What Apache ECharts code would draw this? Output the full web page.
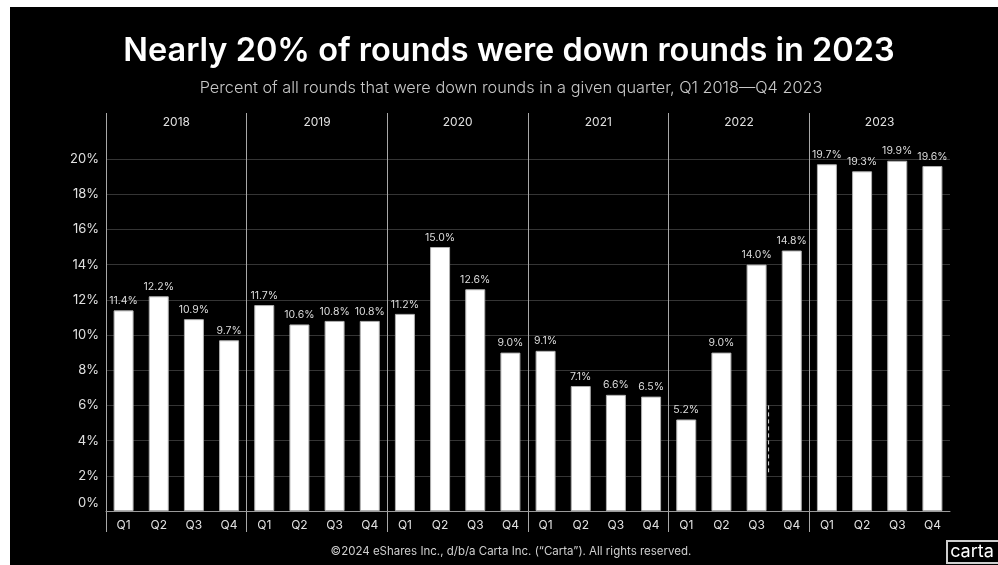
<!DOCTYPE html>
<html>
<head>
<meta charset="utf-8">
<script src="https://cdn.jsdelivr.net/npm/echarts@6/dist/echarts.min.js"></script>
<style>
html,body{margin:0;padding:0;background:#fff;width:998px;height:565px;overflow:hidden;}
#chart{position:absolute;left:10px;top:7px;width:988px;height:558px;background:#000;}
</style>
</head>
<body>
<div id="chart"></div>
<script>
// ---- data ----
const years = ['2018', '2019', '2020', '2021', '2022', '2023'];
const quarters = ['Q1', 'Q2', 'Q3', 'Q4'];
const downRoundPct = [
  11.4, 12.2, 10.9, 9.7,
  11.7, 10.6, 10.8, 10.8,
  11.2, 15.0, 12.6, 9.0,
  9.1, 7.1, 6.6, 6.5,
  5.2, 9.0, 14.0, 14.8,
  19.7, 19.3, 19.9, 19.6
];
const yTicks = [0, 2, 4, 6, 8, 10, 12, 14, 16, 18, 20];
// stray dashed marker in the original (category index, from %, to %)
const dashMarker = [[18, 6.0, 2.2]];

const titleText = 'Nearly 20% of rounds were down rounds in 2023';
const subtitleText = 'Percent of all rounds that were down rounds in a given quarter, Q1 2018\u2014Q4 2023';
const footerText = '\u00A92024 eShares Inc., d/b/a Carta Inc. (\u201CCarta\u201D). All rights reserved.';

// ---- build ----
const quarterCats = [];
years.forEach(y => quarters.forEach(q => quarterCats.push(q)));
const FONT = 'Inter, "Noto Sans", sans-serif';

const chart = echarts.init(document.getElementById('chart'), null, {renderer: 'canvas'});
chart.setOption({
  backgroundColor: '#000',
  animation: false,
  textStyle: {fontFamily: FONT},
  graphic: [
    {type: 'text', x: 499, y: 44, style: {text: titleText, fill: '#fff', font: '600 32.5px ' + FONT, textAlign: 'center', textVerticalAlign: 'middle'}},
    {type: 'text', x: 501, y: 81, style: {text: subtitleText, fill: '#c8c8c8', font: '300 16.3px ' + FONT, textAlign: 'center', textVerticalAlign: 'middle'}},
    {type: 'text', x: 501, y: 545, style: {text: footerText, fill: '#cfcfcf', font: '11.5px ' + FONT, textAlign: 'center', textVerticalAlign: 'middle'}},
    {type: 'rect', shape: {x: 937, y: 534, width: 60, height: 22}, style: {fill: '#000', stroke: '#cfcfcf', lineWidth: 2}},
    {type: 'text', x: 962, y: 545, style: {text: 'carta', fill: '#fff', font: '18px ' + FONT, textAlign: 'center', textVerticalAlign: 'middle'}}
  ],
  grid: [
    {left: 96, right: 48, top: 152, bottom: 54},
    {left: 96, right: 48, top: 106, bottom: 33}
  ],
  xAxis: [
    {
      type: 'category', gridIndex: 0, data: quarterCats, position: 'bottom',
      axisLine: {show: true, lineStyle: {color: '#9a9a9a', width: 1}},
      axisTick: {show: false},
      axisLabel: {color: '#e0e0e0', fontSize: 12, margin: 8, interval: 0},
      splitLine: {show: false}
    },
    {
      type: 'category', gridIndex: 0, data: years, position: 'top',
      axisLine: {show: false}, axisTick: {show: false},
      axisLabel: {color: '#e0e0e0', fontSize: 12, margin: 31, interval: 0},
      splitLine: {show: false}
    },
    {
      type: 'value', gridIndex: 1, min: 0, max: quarterCats.length, interval: quarters.length,
      axisLine: {show: false}, axisTick: {show: false}, axisLabel: {show: false},
      splitLine: {show: true, showMinLine: true, showMaxLine: false, lineStyle: {color: '#a8a8a8', width: 1}}
    }
  ],
  yAxis: [
    {
      type: 'value', gridIndex: 0, min: yTicks[0], max: yTicks[yTicks.length - 1], interval: 2,
      axisLine: {show: false}, axisTick: {show: false},
      axisLabel: {
        color: '#e0e0e0', fontSize: 13, margin: 7,
        formatter: v => v === 0 ? '{z|0%}' : v + '%',
        rich: {z: {color: '#e0e0e0', fontSize: 13, padding: [0, 0, 16, 0]}}
      },
      splitLine: {show: true, lineStyle: {color: '#353535', width: 1}}
    },
    {
      type: 'value', gridIndex: 1, min: 0, max: 1, show: false, splitLine: {show: false}
    }
  ],
  series: [
    {
      type: 'bar', xAxisIndex: 0, yAxisIndex: 0,
      data: downRoundPct,
      barWidth: 20,
      itemStyle: {color: '#ffffff', borderColor: '#b0b0b0', borderWidth: 1},
      label: {show: true, position: 'top', distance: 4, color: '#dcdcdc', fontSize: 10.5, formatter: p => p.value.toFixed(1) + '%'}
    },
    {
      type: 'custom', xAxisIndex: 0, yAxisIndex: 0, z: 5,
      data: dashMarker,
      renderItem: (params, api) => {
        const a = api.coord([api.value(0), api.value(1)]);
        const b = api.coord([api.value(0), api.value(2)]);
        const off = 12;
        return {type: 'line', shape: {x1: a[0] + off, y1: a[1], x2: b[0] + off, y2: b[1]},
          style: {stroke: '#dddddd', lineWidth: 1, lineDash: [4, 3]}};
      }
    }
  ]
});
</script>
</body>
</html>
